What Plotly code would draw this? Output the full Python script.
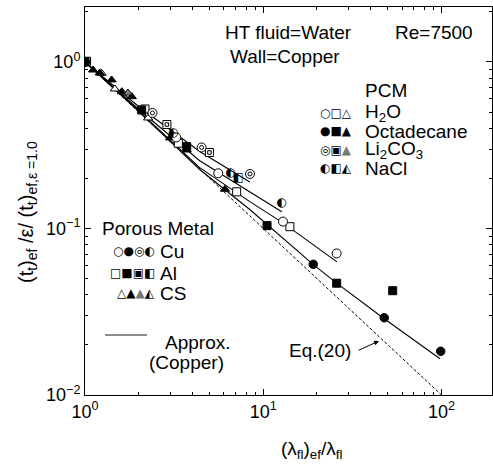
import plotly.graph_objects as go

# ---------------- data ----------------
eq20_x = [1, 100]
eq20_y = [1, 0.01]

approx_li2co3_x = [1, 2, 4.4, 8.4]
approx_li2co3_y = [1, 0.54, 0.29, 0.19]
approx_nacl_x = [1, 2, 4.4, 8.4, 12.7]
approx_nacl_y = [1, 0.52, 0.255, 0.166, 0.126]
approx_h2o_x = [1, 2, 4.4, 8.4, 12.9, 25.9]
approx_h2o_y = [1, 0.51, 0.232, 0.145, 0.108, 0.063]
approx_oct_x = [1, 2, 4.4, 8.4, 19.1, 25.8, 47.1, 98]
approx_oct_y = [1, 0.505, 0.226, 0.130, 0.0607, 0.047, 0.029, 0.0165]

h2o_cu_x = [1, 3.25, 5.59, 12.9, 25.8]
h2o_cu_y = [1, 0.352, 0.2146, 0.110, 0.0708]
oct_cu_x = [1, 19.07, 47.7, 98.9]
oct_cu_y = [1, 0.0609, 0.0291, 0.0183]
li_cu_x = [2.39, 4.51, 8.42]
li_cu_y = [0.494, 0.3065, 0.2125]
nacl_cu_x = [3.14, 6.56, 12.7]
nacl_cu_y = [0.375, 0.2146, 0.1417]

h2o_al_x = [1.02, 2.17, 3.34, 7.09, 14.1]
h2o_al_y = [1.01, 0.522, 0.325, 0.166, 0.1025]
oct_al_x = [1, 2.08, 3.72, 10.5, 25.8, 53.2]
oct_al_y = [1, 0.515, 0.31, 0.104, 0.0469, 0.0423]
li_al_x = [2.88, 4.99]
li_al_y = [0.421, 0.286]
nacl_al_x = [7.24]
nacl_al_y = [0.200]

h2o_cs_x = [1.24, 1.47, 2.26]
h2o_cs_y = [0.855, 0.688, 0.461]
oct_cs_x = [1, 1.11, 1.21, 1.41, 1.61, 1.83, 3.0, 3.72, 6.10]
oct_cs_y = [1, 0.895, 0.859, 0.780, 0.663, 0.619, 0.35, 0.296, 0.172]
li_cs_x = [1.74]
li_cs_y = [0.651]

x_tickvals = [1, 10, 100]
x_ticktext = ["10<sup>0</sup>", "10<sup>1</sup>", "10<sup>2</sup>"]
y_tickvals = [0.01, 0.1, 1]
y_ticktext = ["10<sup>\u22122</sup>", "10<sup>\u22121</sup>", "10<sup>0</sup>"]

# ---------------- figure ----------------
W, H = 493, 464
L, R, T, B = 85, 492, 7, 395
FONT = "Liberation Sans, Arial, Helvetica, sans-serif"


def px(x):
    return (x - L) / (R - L)


def py(y):
    return (B - y) / (B - T)


fig = go.Figure()

fig.add_trace(go.Scatter(x=eq20_x, y=eq20_y, mode="lines",
                         line=dict(color="black", width=1, dash="3px,2px")))
for lx, ly in [(approx_li2co3_x, approx_li2co3_y), (approx_nacl_x, approx_nacl_y),
               (approx_h2o_x, approx_h2o_y), (approx_oct_x, approx_oct_y)]:
    fig.add_trace(go.Scatter(x=lx, y=ly, mode="lines", line=dict(color="black", width=1.1)))


def markers(x, y, symbol, size, color="black", fill="white"):
    fig.add_trace(go.Scatter(x=x, y=y, mode="markers",
                             marker=dict(symbol=symbol, size=size, color=fill,
                                         line=dict(color=color, width=1))))


# CS triangles
markers(h2o_cs_x, h2o_cs_y, "triangle-up", 8)
markers(oct_cs_x, oct_cs_y, "triangle-up", 8, fill="black")
markers(li_cs_x, li_cs_y, "triangle-up", 8, fill="#888888")
# Al squares
markers(h2o_al_x, h2o_al_y, "square", 8)
markers(oct_al_x, oct_al_y, "square", 8, fill="black")
markers(li_al_x, li_al_y, "square", 8)
markers(li_al_x, li_al_y, "square", 3.5)
# Cu circles
markers(h2o_cu_x, h2o_cu_y, "circle", 9)
markers(oct_cu_x, oct_cu_y, "circle", 8.5, fill="black")
markers(li_cu_x, li_cu_y, "circle", 9)
markers(li_cu_x, li_cu_y, "circle", 4)
# NaCl half-filled glyphs
fig.add_trace(go.Scatter(x=nacl_cu_x, y=nacl_cu_y, mode="text", text=["\u25D0"] * len(nacl_cu_x),
                         textfont=dict(family="DejaVu Sans", size=12, color="black"),
                         textposition="middle center"))
fig.add_trace(go.Scatter(x=nacl_al_x, y=nacl_al_y, mode="text", text=["\u25E7"] * len(nacl_al_x),
                         textfont=dict(family="DejaVu Sans", size=12, color="black"),
                         textposition="middle center"))

ann = []


def text(x, y, s, size=19, xanchor="left"):
    ann.append(dict(x=px(x), y=py(y), xref="paper", yref="paper", text=s, showarrow=False,
                    xanchor=xanchor, yanchor="middle", font=dict(family=FONT, size=size, color="black")))


text(223, 33, "HT fluid=Water")
text(393, 33, "Re=7500")
text(228, 57, "Wall=Copper")
text(363, 90, "PCM")
text(363, 113, "H<sub>2</sub>O")
text(363, 131, "Octadecane")
text(363, 150, "Li<sub>2</sub>CO<sub>3</sub>")
text(363, 168, "NaCl")

SYM = "DejaVu Sans, sans-serif"


def sym(x, y, s, size=12):
    ann.append(dict(x=px(x), y=py(y), xref="paper", yref="paper", text=s, showarrow=False,
                    xanchor="right", yanchor="middle", font=dict(family=SYM, size=size, color="black")))


sym(354, 113, "\u25CB\u25A1\u25B3")
sym(354, 131, "\u25CF\u25A0\u25B2")
sym(354, 150, "\u25CE\u25A3<span style='color:#777'>\u25B2</span>")
sym(354, 168, "\u25D0\u25E7\u25ED")

text(100, 228, "Porous Metal")
text(158, 251, "Cu")
text(158, 273, "Al")
text(158, 293, "CS")
sym(157, 251, "\u25CB\u25CF\u25CE\u25D0")
sym(157, 273, "\u25A1\u25A0\u25A3\u25E7")
sym(157, 293, "\u25B3\u25B2<span style='color:#777'>\u25B2</span>\u25ED")

text(163, 342, "Approx.")
text(147, 362, "(Copper)")
text(287, 350, "Eq.(20)", size=19)
ann.append(dict(x=px(379), y=py(341), xref="paper", yref="paper", ax=-22, ay=10, text="",
                showarrow=True, arrowhead=2, arrowsize=1, arrowwidth=1, arrowcolor="black", standoff=0))

ann.append(dict(x=px(311), y=py(450), xref="paper", yref="paper", showarrow=False,
                text="(\u03bb<sub>fl</sub>)<sub>ef</sub>/\u03bb<sub>fl</sub>", xanchor="center", yanchor="middle",
                font=dict(family=FONT, size=19, color="black")))
ann.append(dict(x=px(27), y=py(212), xref="paper", yref="paper", showarrow=False, textangle=-90,
                text="(t<sub>t</sub>)<sub>ef</sub> /\u03b5/ (t<sub>t</sub>)<sub>ef,\u03b5 =1.0</sub>",
                xanchor="center", yanchor="middle", font=dict(family=FONT, size=20, color="black")))

shapes = [dict(type="line", xref="paper", yref="paper", x0=px(105), x1=px(147), y0=py(335), y1=py(335),
               line=dict(color="#666666", width=1.5))]

axis_common = dict(type="log", showgrid=False, zeroline=False, showline=True, linecolor="black",
                   linewidth=1, ticks="inside", ticklen=6, tickcolor="black", mirror="allticks",
                   tickmode="array", tickfont=dict(family=FONT, size=18, color="black"),
                   minor=dict(ticks="inside", ticklen=3, tickcolor="black", dtick="D1", showgrid=False))

fig.update_layout(
    width=W, height=H, margin=dict(l=L, r=W - R, t=T, b=H - B),
    paper_bgcolor="white", plot_bgcolor="white", showlegend=False,
    xaxis=dict(range=[0, 2.283], tickvals=x_tickvals, ticktext=x_ticktext, **axis_common),
    yaxis=dict(range=[-2, 0.33], tickvals=y_tickvals, ticktext=y_ticktext, **axis_common),
    annotations=ann, shapes=shapes,
)

fig.write_html("out.html")
